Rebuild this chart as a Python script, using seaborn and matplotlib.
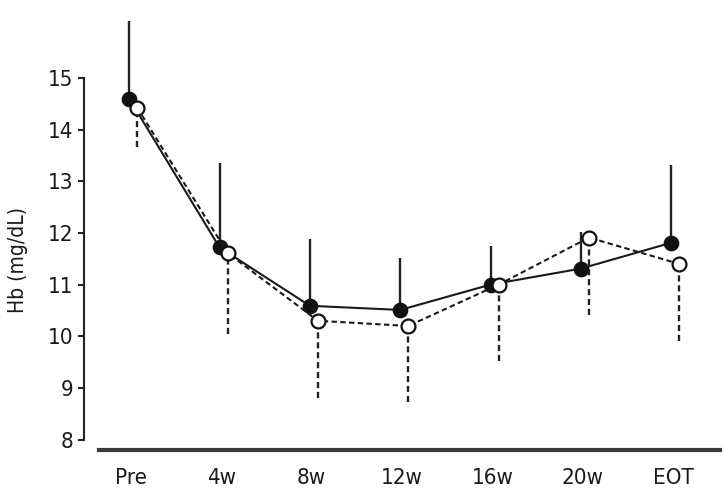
import numpy as np
import matplotlib
matplotlib.use('Agg')
import matplotlib.pyplot as plt
import seaborn as sns

# data
visits = ['Pre', '4w', '8w', '12w', '16w', '20w', 'EOT']
hb_filled = [14.6, 11.72, 10.59, 10.51, 11.0, 11.31, 11.81]
sd_filled = [1.5, 1.63, 1.3, 1.01, 0.74, 0.71, 1.51]
hb_open = [14.42, 11.61, 10.30, 10.20, 11.0, 11.91, 11.40]
sd_open = [0.75, 1.56, 1.49, 1.47, 1.47, 1.49, 1.49]

sns.set_style('ticks')
plt.rcParams['font.family'] = ['DejaVu Sans']
plt.rcParams['font.stretch'] = 'condensed'

fig = plt.figure(figsize=(7.24, 4.88), dpi=100)
ax = fig.add_axes([99 / 724, 38 / 488, 621 / 724, 430 / 488])

pos = np.arange(len(visits))
x_f = pos - 0.02
x_o = pos + 0.07
dash = (0, (2.6, 1.6))

# error bars: filled group upward (solid), open group downward (dashed)
ax.vlines(x_f, hb_filled, np.array(hb_filled) + np.array(sd_filled),
          colors='#222222', linewidth=1.7, zorder=1)
ax.vlines(x_o, np.array(hb_open) - np.array(sd_open), hb_open,
          colors='#222222', linewidth=1.7, linestyles=[dash], zorder=1)

sns.lineplot(x=x_f, y=hb_filled, ax=ax, color='#1a1a1a', lw=1.5,
             marker='o', markersize=10, markerfacecolor='#111111',
             markeredgecolor='#111111', markeredgewidth=1.3, zorder=3)
sns.lineplot(x=x_o, y=hb_open, ax=ax, color='#1a1a1a', lw=1.5, linestyle=dash,
             marker='o', markersize=10, markerfacecolor='white',
             markeredgecolor='#111111', markeredgewidth=1.6, zorder=4)

ax.set_xlim(-0.354, 6.52)
ax.set_ylim(7.8, 16.12)
ax.set_xticks(pos)
ax.set_xticklabels(visits)
ax.set_yticks(range(8, 16))

ax.spines['top'].set_visible(False)
ax.spines['right'].set_visible(False)
ax.spines['left'].set_position(('outward', 11))
ax.spines['left'].set_bounds(8, 15)
ax.spines['left'].set_linewidth(1.5)
ax.spines['left'].set_color('#222222')
ax.spines['bottom'].set_linewidth(3)
ax.spines['bottom'].set_color('#3a3a3a')

ax.tick_params(axis='x', length=0, pad=13, labelsize=16, colors='#1a1a1a')
ax.tick_params(axis='y', length=4.5, width=1.5, pad=3, labelsize=16,
               color='#222222', labelcolor='#1a1a1a')

ax.set_ylabel('Hb (mg/dL)', fontsize=15, color='#1a1a1a')
ax.yaxis.set_label_coords(-0.115, 0.442)

fig.savefig('out.png', dpi=100)
